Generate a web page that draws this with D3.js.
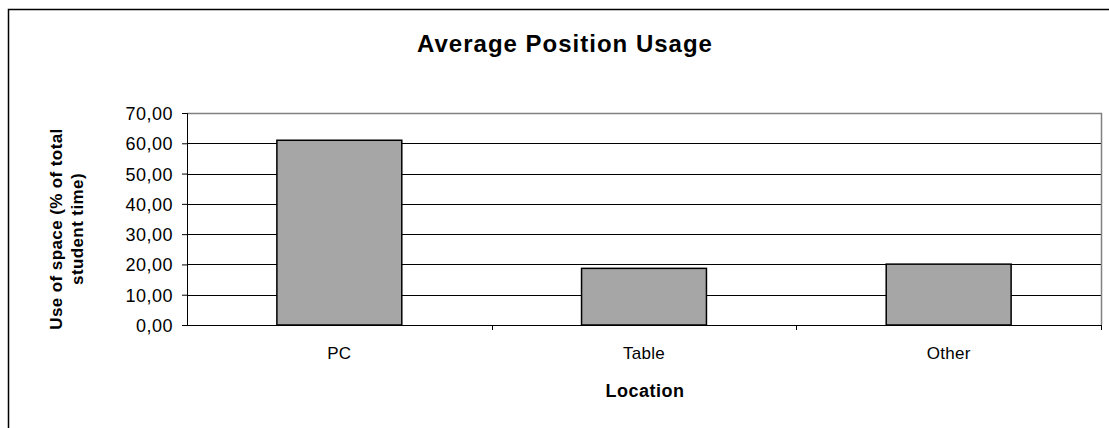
<!DOCTYPE html>
<html>
<head>
<meta charset="utf-8">
<script src="https://cdn.jsdelivr.net/npm/d3@7"></script>
<style>
  html, body { margin: 0; padding: 0; background: #fff; }
  svg { display: block; font-family: "Liberation Sans", Arial, sans-serif; }
</style>
</head>
<body>
<svg id="chart" width="1109" height="428"></svg>
<script>
// Chart data
const categories = ["PC", "Table", "Other"];
const usage = [61.0, 18.7, 20.1];
const yTicks = [0, 10, 20, 30, 40, 50, 60, 70];

const title = "Average Position Usage";
const xTitle = "Location";
const yTitleLines = ["Use of space (% of total", "student time)"];

const svg = d3.select("#chart");
const W = 1109, H = 428;
const plot = { left: 187, right: 1101, top: 113, bottom: 325 };

// Outer chart frame (extends past the right and bottom edges)
svg.append("rect")
  .attr("x", 8.5).attr("y", 9.5)
  .attr("width", W + 10).attr("height", H + 10)
  .attr("fill", "#fff").attr("stroke", "#000").attr("stroke-width", 1.5);

const x = d3.scaleBand().domain(categories)
  .range([plot.left, plot.right]).paddingInner(0.59).paddingOuter(0.295);
const y = d3.scaleLinear().domain([0, 70]).range([plot.bottom, plot.top]);

// Horizontal gridlines
svg.append("g").selectAll("line")
  .data(yTicks.filter(t => t > 0 && t < 70))
  .join("line")
  .attr("x1", plot.left).attr("x2", plot.right)
  .attr("y1", d => Math.round(y(d)) + 0.5).attr("y2", d => Math.round(y(d)) + 0.5)
  .attr("stroke", "#000").attr("stroke-width", 1);

// Plot area border (top and right)
svg.append("path")
  .attr("d", `M${plot.left},${plot.top + 0.5}H${plot.right + 0.5}V${plot.bottom}`)
  .attr("fill", "none").attr("stroke", "#808080").attr("stroke-width", 1.5);

// Bars
svg.append("g").selectAll("rect")
  .data(categories.map((c, i) => ({ c, v: usage[i] })))
  .join("rect")
  .attr("x", d => x(d.c)).attr("width", x.bandwidth())
  .attr("y", d => y(d.v)).attr("height", d => y(0) - y(d.v))
  .attr("fill", "#a6a6a6").attr("stroke", "#000").attr("stroke-width", 1.5);

// Y axis
const yAxis = d3.axisLeft(y).tickValues(yTicks).tickSize(5).tickPadding(9)
  .tickFormat(d => d3.format(".2f")(d).replace(".", ","));
const gy = svg.append("g").attr("transform", `translate(${plot.left},0)`).call(yAxis);
gy.select(".domain").attr("stroke", "#000").attr("stroke-width", 1);
gy.selectAll(".tick line").attr("stroke", "#000");
gy.selectAll(".tick text").attr("font-size", 18).attr("fill", "#000")
  .attr("letter-spacing", 0.5).attr("dy", "0.36em")
  .attr("font-family", "'Liberation Sans', Arial, sans-serif");

// X axis with ticks at category boundaries
const boundaries = d3.range(categories.length + 1).map(i => plot.left + i * (plot.right - plot.left) / categories.length);
svg.append("line")
  .attr("x1", plot.left - 5).attr("x2", plot.right)
  .attr("y1", plot.bottom + 0.5).attr("y2", plot.bottom + 0.5)
  .attr("stroke", "#000").attr("stroke-width", 1);
svg.append("g").selectAll("line")
  .data(boundaries.slice(1))
  .join("line")
  .attr("x1", d => Math.round(d) + 0.5).attr("x2", d => Math.round(d) + 0.5)
  .attr("y1", plot.bottom).attr("y2", plot.bottom + 5)
  .attr("stroke", "#000");

svg.append("g").selectAll("text")
  .data(categories)
  .join("text")
  .attr("x", d => x(d) + x.bandwidth() / 2)
  .attr("y", 359)
  .attr("text-anchor", "middle")
  .attr("font-size", 17).attr("letter-spacing", 0.3)
  .text(d => d);

// Titles
svg.append("text")
  .attr("x", 565).attr("y", 52)
  .attr("text-anchor", "middle")
  .attr("font-size", 24).attr("font-weight", "bold").attr("letter-spacing", 1)
  .text(title);

svg.append("text")
  .attr("x", 645).attr("y", 397)
  .attr("text-anchor", "middle")
  .attr("font-size", 18).attr("font-weight", "bold").attr("letter-spacing", 0.5)
  .text(xTitle);

const yt = svg.append("text")
  .attr("transform", "translate(0,229) rotate(-90)")
  .attr("text-anchor", "middle")
  .attr("font-size", 17).attr("font-weight", "bold").attr("letter-spacing", 0.4);
yTitleLines.forEach((line, i) => {
  yt.append("tspan").attr("x", 0).attr("y", 62 + i * 21).text(line);
});
</script>
</body>
</html>
